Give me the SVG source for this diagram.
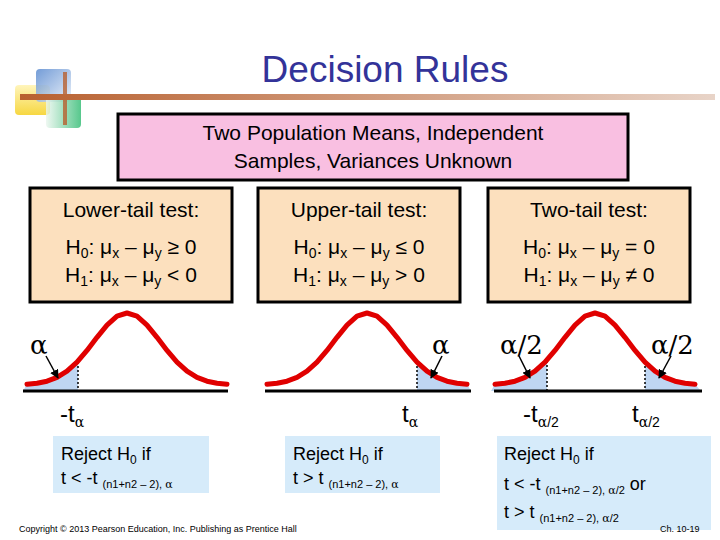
<svg xmlns="http://www.w3.org/2000/svg" width="720" height="540" viewBox="0 0 720 540">
<style>
text{font-family:"Liberation Sans",Arial,sans-serif;fill:#000}
.box{fill:#FCE0BE;stroke:#000;stroke-width:3}
.bt{font-size:21px;text-anchor:middle}
.rej{fill:#D6EBFA}
.rt{font-size:18px}
.curve{fill:none;stroke:#E00000;stroke-width:5;stroke-linejoin:round;stroke-linecap:round}
.shade{fill:#BFD6F2}
.base{stroke:#000;stroke-width:3}
.dot{stroke:#000;stroke-width:1.5;stroke-dasharray:2 2}
.arr{stroke:#000;stroke-width:1.5;marker-end:url(#ah)}
.g{font-family:"DejaVu Serif","Liberation Serif",serif;font-size:26px}
.gs{font-family:"DejaVu Serif","Liberation Serif",serif}
</style>
<defs>
<linearGradient id="hl" x1="0" x2="1"><stop offset="0" stop-color="#B8602F"/><stop offset="1" stop-color="#E8D4C8"/></linearGradient>
<linearGradient id="gy" x1="0" y1="1" x2="0" y2="0"><stop offset="0" stop-color="#F5D020"/><stop offset="1" stop-color="#FFF3B0"/></linearGradient>
<linearGradient id="gb" x1="0" y1="0" x2="1" y2="1"><stop offset="0" stop-color="#5B8BD0"/><stop offset="1" stop-color="#E6EEF8"/></linearGradient>
<linearGradient id="gg" x1="0" y1="0" x2="1" y2="0"><stop offset="0" stop-color="#EAF6EE"/><stop offset="1" stop-color="#2DBA70"/></linearGradient>
<marker id="ah" viewBox="0 0 10 10" refX="9" refY="5" markerWidth="6" markerHeight="6" orient="auto"><path d="M0,0L10,5L0,10z" fill="#000"/></marker>
<path id="gauss" d="M-100,384.3 L-90,383.3 -80,381.2 -70,377.4 -60,371.2 -50,362.2 -40,350.4 -30,337.3 -20,325.1 -10,316.2 0,313 10,316.2 20,325.1 30,337.3 40,350.4 50,362.2 60,371.2 70,377.4 80,381.2 90,383.3 100,384.3"/>
</defs>
<g id="logo">
<rect x="15" y="85" width="35" height="30" rx="4" fill="url(#gy)" opacity="0.85"/>
<rect x="36" y="69" width="35" height="33" rx="4" fill="url(#gb)" opacity="0.85"/>
<rect x="46" y="95" width="35" height="33" rx="4" fill="url(#gg)" opacity="0.8"/>
<rect x="63" y="72" width="4" height="53" fill="#B8602F" opacity="0.8"/>
<rect x="20" y="94" width="695" height="6" fill="url(#hl)"/>
</g>
<text x="385" y="82" font-size="37" text-anchor="middle" style="fill:#333399">Decision Rules</text>
<g id="header">
<rect x="118" y="114" width="510" height="66" fill="#F9BFE1" stroke="#000" stroke-width="3"/>
<text x="373" y="140" font-size="21" text-anchor="middle">Two Population Means, Independent</text>
<text x="373" y="168" font-size="21" text-anchor="middle">Samples, Variances Unknown</text>
</g>
<g id="lower">
<rect class="box" x="30" y="188" width="202" height="114"/>
<text class="bt" x="131" y="217">Lower-tail test:</text>
<text class="bt" x="131" y="254">H<tspan font-size="14" dy="4">0</tspan><tspan dy="-4">: μ</tspan><tspan font-size="14" dy="4">x</tspan><tspan dy="-4"> –  μ</tspan><tspan font-size="14" dy="4">y</tspan><tspan dy="-4"> ≥ 0</tspan></text>
<text class="bt" x="131" y="282">H<tspan font-size="14" dy="4">1</tspan><tspan dy="-4">: μ</tspan><tspan font-size="14" dy="4">x</tspan><tspan dy="-4"> –  μ</tspan><tspan font-size="14" dy="4">y</tspan><tspan dy="-4"> &lt; 0</tspan></text>
</g>
<g id="upper">
<rect class="box" x="258" y="188" width="202" height="114"/>
<text class="bt" x="359" y="217">Upper-tail test:</text>
<text class="bt" x="359" y="254">H<tspan font-size="14" dy="4">0</tspan><tspan dy="-4">: μ</tspan><tspan font-size="14" dy="4">x</tspan><tspan dy="-4"> –  μ</tspan><tspan font-size="14" dy="4">y</tspan><tspan dy="-4"> ≤ 0</tspan></text>
<text class="bt" x="359" y="282">H<tspan font-size="14" dy="4">1</tspan><tspan dy="-4">: μ</tspan><tspan font-size="14" dy="4">x</tspan><tspan dy="-4"> –  μ</tspan><tspan font-size="14" dy="4">y</tspan><tspan dy="-4"> &gt; 0</tspan></text>
</g>
<g id="two">
<rect class="box" x="488" y="188" width="202" height="114"/>
<text class="bt" x="589" y="217">Two-tail test:</text>
<text class="bt" x="589" y="254">H<tspan font-size="14" dy="4">0</tspan><tspan dy="-4">: μ</tspan><tspan font-size="14" dy="4">x</tspan><tspan dy="-4"> –  μ</tspan><tspan font-size="14" dy="4">y</tspan><tspan dy="-4"> = 0</tspan></text>
<text class="bt" x="589" y="282">H<tspan font-size="14" dy="4">1</tspan><tspan dy="-4">: μ</tspan><tspan font-size="14" dy="4">x</tspan><tspan dy="-4"> –  μ</tspan><tspan font-size="14" dy="4">y</tspan><tspan dy="-4"> ≠ 0</tspan></text>
</g>
<g id="curve-lower" transform="translate(127,0)">
<path class="shade" d="M-104,391 L-100,384.3 -90,383.3 -80,381.2 -70,377.4 -60,371.2 -49,361 L-49,391Z"/>
<line class="dot" x1="-49" y1="362" x2="-49" y2="391"/>
<line class="base" x1="-104" y1="391" x2="101" y2="391"/>
<use href="#gauss" class="curve"/>
</g>
<g id="curve-upper" transform="translate(367,0)">
<path class="shade" d="M50,391 L50,362.2 60,371.2 70,377.4 80,381.2 90,383.3 100,384.3 104,391Z"/>
<line class="dot" x1="50" y1="362" x2="50" y2="391"/>
<line class="base" x1="-102" y1="391" x2="104" y2="391"/>
<use href="#gauss" class="curve"/>
</g>
<g id="curve-two" transform="translate(595,0)">
<path class="shade" d="M-104,391 L-100,384.3 -90,383.3 -80,381.2 -70,377.4 -60,371.2 -48,360 L-48,391Z"/>
<path class="shade" d="M50,391 L50,362.2 60,371.2 70,377.4 80,381.2 90,383.3 100,384.3 106,391Z"/>
<line class="dot" x1="-48" y1="361" x2="-48" y2="391"/>
<line class="dot" x1="50" y1="362" x2="50" y2="391"/>
<line class="base" x1="-101" y1="391" x2="107" y2="391"/>
<use href="#gauss" class="curve"/>
</g>
<g id="connectors">
<line class="arr" x1="46" y1="356" x2="58" y2="378"/>
<line class="arr" x1="442" y1="356" x2="431" y2="378"/>
<line class="arr" x1="519" y1="356" x2="530" y2="378"/>
<line class="arr" x1="671" y1="356" x2="659" y2="378"/>
</g>
<g id="labels">
<text class="g" x="30" y="354">α</text>
<text class="g" x="432" y="354">α</text>
<text class="g" x="500" y="354">α/2</text>
<text class="g" x="651" y="354">α/2</text>
<text x="60" y="422" font-size="24">-t<tspan class="gs" font-size="14" dy="5">α</tspan></text>
<text x="402" y="422" font-size="24">t<tspan class="gs" font-size="14" dy="5">α</tspan></text>
<text x="523" y="422" font-size="24">-t<tspan font-size="14" dy="5"><tspan class="gs">α</tspan>/2</tspan></text>
<text x="632" y="422" font-size="24">t<tspan font-size="14" dy="5"><tspan class="gs">α</tspan>/2</tspan></text>
</g>
<g id="reject-lower">
<rect class="rej" x="53" y="436" width="156" height="57"/>
<text class="rt" x="61" y="460">Reject H<tspan font-size="12" dy="4">0</tspan><tspan dy="-4"> if</tspan></text>
<text class="rt" x="61" y="484">t &lt; -t <tspan font-size="11" dy="4">(n1+n2 – 2), <tspan class="gs">α</tspan></tspan></text>
</g>
<g id="reject-upper">
<rect class="rej" x="285" y="436" width="155" height="57"/>
<text class="rt" x="293" y="460">Reject H<tspan font-size="12" dy="4">0</tspan><tspan dy="-4"> if</tspan></text>
<text class="rt" x="293" y="484">t &gt; t <tspan font-size="11" dy="4">(n1+n2 – 2), <tspan class="gs">α</tspan></tspan></text>
</g>
<g id="reject-two">
<rect class="rej" x="497" y="436" width="214" height="94"/>
<text class="rt" x="504" y="460">Reject H<tspan font-size="12" dy="4">0</tspan><tspan dy="-4"> if</tspan></text>
<text class="rt" x="504" y="490">t &lt; -t <tspan font-size="11" dy="4">(n1+n2 – 2), <tspan class="gs">α</tspan>/2</tspan><tspan dy="-4">  or</tspan></text>
<text class="rt" x="504" y="518">t &gt; t <tspan font-size="11" dy="4">(n1+n2 – 2), <tspan class="gs">α</tspan>/2</tspan></text>
</g>
<text x="19" y="532" font-size="9">Copyright © 2013 Pearson Education, Inc. Publishing as Prentice Hall</text>
<text x="660" y="532" font-size="9">Ch. 10-19</text>
</svg>
